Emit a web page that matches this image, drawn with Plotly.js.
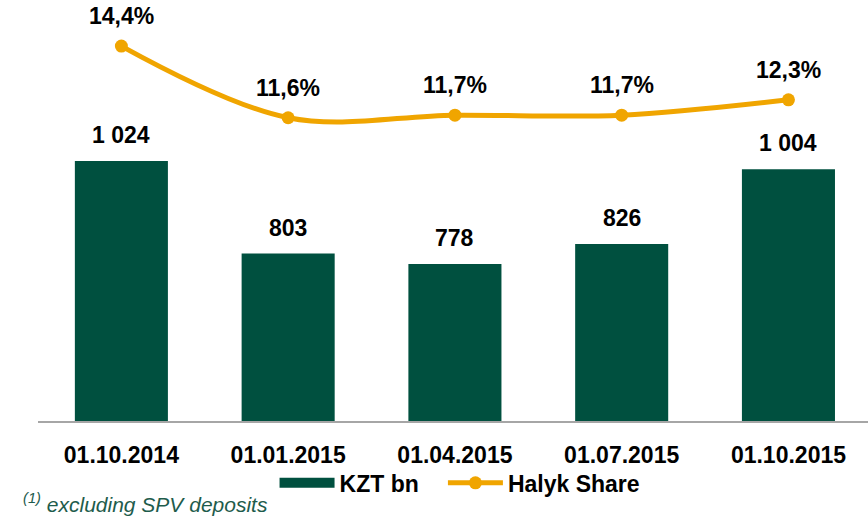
<!DOCTYPE html>
<html>
<head>
<meta charset="utf-8">
<script src="https://cdn.plot.ly/plotly-3.0.1.min.js"></script>
<style>html,body{margin:0;padding:0;background:#fff;}#chart{width:868px;height:518px;}</style>
</head>
<body>
<div id="chart"></div>
<script>
var categories = ['01.10.2014', '01.01.2015', '01.04.2015', '01.07.2015', '01.10.2015'];
var kztValues = [1024, 803, 778, 826, 1004];
var kztLabels = ['1 024', '803', '778', '826', '1 004'];
var shareValues = [14.4, 11.6, 11.7, 11.7, 12.3];
var shareLabels = ['14,4%', '11,6%', '11,7%', '11,7%', '12,3%'];
var seriesNames = ['KZT bn', 'Halyk Share'];

var BAR_COLOR = '#00503F';
var LINE_COLOR = '#F0A500';
var FONT = 'Liberation Sans, Arial, sans-serif';

var xIdx = categories.map(function (c, i) { return i; });

var bars = {
  type: 'bar',
  name: seriesNames[0],
  legendgroup: 'kzt',
  showlegend: false,
  x: xIdx,
  y: kztValues,
  width: 0.558,
  marker: { color: BAR_COLOR },
  hoverinfo: 'skip'
};

// legend entry for the bars drawn as a wide swatch (trailing no-break spaces widen the gap)
var barKey = {
  type: 'scatter',
  mode: 'lines',
  name: seriesNames[0] + '\u00a0\u00a0\u00a0',
  legendgroup: 'kzt',
  x: [null], y: [null],
  line: { color: BAR_COLOR, width: 13 },
  hoverinfo: 'skip'
};

var line = {
  type: 'scatter',
  mode: 'lines+markers',
  name: seriesNames[1],
  x: xIdx,
  y: shareValues,
  yaxis: 'y2',
  line: { color: LINE_COLOR, width: 5, shape: 'spline', smoothing: 1 },
  marker: { color: LINE_COLOR, size: 13 },
  hoverinfo: 'skip'
};

var annotations = [];
xIdx.forEach(function (i) {
  annotations.push({
    x: i, y: kztValues[i], xref: 'x', yref: 'y',
    text: '<b>' + kztLabels[i] + '</b>', showarrow: false,
    xanchor: 'center', yanchor: 'bottom', yshift: 11,
    font: { family: FONT, size: 23, color: '#000' }
  });
  annotations.push({
    x: i, y: shareValues[i], xref: 'x', yref: 'y2',
    text: '<b>' + shareLabels[i] + '</b>', showarrow: false,
    xanchor: 'center', yanchor: 'bottom', yshift: 15,
    font: { family: FONT, size: 23, color: '#000' }
  });
});
annotations.push({
  xref: 'paper', yref: 'paper', x: -0.021, y: -0.231,
  xanchor: 'left', yanchor: 'bottom', showarrow: false,
  text: '<i><sup>(1)</sup> excluding SPV deposits</i>',
  font: { family: FONT, size: 21, color: '#1E5C4C' }
});

var layout = {
  width: 868, height: 518,
  margin: { l: 38, r: 0, t: 0, b: 97 },
  paper_bgcolor: '#fff', plot_bgcolor: '#fff',
  showlegend: true,
  legend: {
    orientation: 'h', x: 0.285, xanchor: 'left', xref: 'paper',
    y: -0.096, yanchor: 'top',
    bgcolor: 'rgba(0,0,0,0)',
    font: { family: FONT, size: 23, color: '#000', weight: 'bold' },
    itemwidth: 55, tracegroupgap: 0
  },
  xaxis: {
    range: [-0.5, 4.477],
    tickmode: 'array', tickvals: xIdx, ticktext: categories.map(function (c) { return '<b>' + c + '</b>'; }),
    tickfont: { family: FONT, size: 23, color: '#000' },
    ticks: '', ticklabelstandoff: 12,
    showline: true, linecolor: '#A6A6A6', linewidth: 2,
    showgrid: false, zeroline: false, fixedrange: true
  },
  yaxis: {
    range: [403, 1408.5], visible: false, showgrid: false, zeroline: false, fixedrange: true
  },
  yaxis2: {
    range: [-0.25, 16.2], overlaying: 'y', side: 'right', visible: false,
    showgrid: false, zeroline: false, fixedrange: true
  },
  annotations: annotations,
  hovermode: false
};

Plotly.newPlot('chart', [bars, barKey, line], layout, { staticPlot: true, displayModeBar: false });
</script>
</body>
</html>
